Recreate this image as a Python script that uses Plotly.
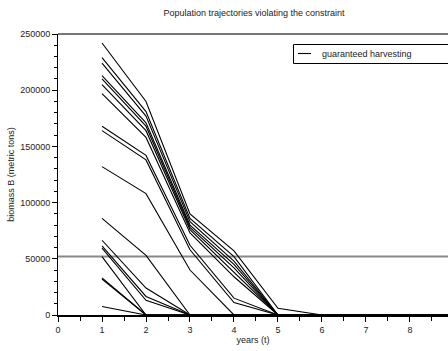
import plotly.graph_objects as go

years = [1, 2, 3, 4, 5, 6, 7, 8, 9]

# biomass trajectories (metric tons), one list per trajectory
traj_A = [242000, 190000, 90000, 57000, 6000, 0, 0, 0, 0]
traj_B = [229000, 181000, 86000, 52000, 0, 0, 0, 0, 0]
traj_C = [224000, 177000, 83000, 48000, 0, 0, 0, 0, 0]
traj_D = [213000, 171000, 80000, 45000, 0, 0, 0, 0, 0]
traj_E = [210000, 168000, 78000, 42000, 0, 0, 0, 0, 0]
traj_F = [205000, 164000, 76000, 38000, 0, 0, 0, 0, 0]
traj_G = [197000, 158000, 73000, 34000, 0, 0, 0, 0, 0]
traj_H = [168000, 142000, 62000, 15000, 0, 0, 0, 0, 0]
traj_I = [164000, 138000, 58000, 11000, 0, 0, 0, 0, 0]
traj_J = [132000, 108000, 40000, 0, 0, 0, 0, 0, 0]
traj_K = [86000, 53000, 0, 0, 0, 0, 0, 0, 0]
traj_L = [66500, 24000, 0, 0, 0, 0, 0, 0, 0]
traj_M = [61500, 16500, 0, 0, 0, 0, 0, 0, 0]
traj_N = [59500, 13000, 0, 0, 0, 0, 0, 0, 0]
traj_O = [52000, 0, 0, 0, 0, 0, 0, 0, 0]
traj_P = [33000, 0, 0, 0, 0, 0, 0, 0, 0]
traj_Q = [32000, 0, 0, 0, 0, 0, 0, 0, 0]
traj_R = [7500, 0, 0, 0, 0, 0, 0, 0, 0]

trajectories = [traj_A, traj_B, traj_C, traj_D, traj_E, traj_F, traj_G, traj_H, traj_I,
                traj_J, traj_K, traj_L, traj_M, traj_N, traj_O, traj_P, traj_Q, traj_R]

constraint_x = [0, 9]
constraint_B = [52000, 52000]

legend_label = "guaranteed harvesting"

fig = go.Figure()

fig.add_trace(go.Scatter(x=constraint_x, y=constraint_B, mode="lines",
                         line=dict(color="#888888", width=2), showlegend=False,
                         hoverinfo="skip"))

for i, tr in enumerate(trajectories):
    fig.add_trace(go.Scatter(x=years, y=tr, mode="lines",
                             line=dict(color="black", width=1.1),
                             name=legend_label, showlegend=False))

FONT = "Liberation Sans, Arial, sans-serif"
font = dict(family=FONT, size=9, color="#222222")

# plot area in pixels: left 58, width 390, top 34, height 281
def px_x(p):
    return (p - 58) / 390.0

def px_y(p):
    return (315 - p) / 281.0

fig.update_layout(
    width=448, height=351,
    margin=dict(l=58, r=0, t=34, b=36, autoexpand=False),
    paper_bgcolor="white", plot_bgcolor="white",
    font=font,
    showlegend=False,
    title=dict(text="Population trajectories violating the constraint",
               x=(58 + 196) / 448, xanchor="center", y=1 - 13 / 351, yanchor="middle",
               font=dict(size=9, family=FONT, color="#222222")),
    xaxis=dict(range=[0, 8.864], tickvals=[0, 1, 2, 3, 4, 5, 6, 7, 8],
               automargin=False,
               showgrid=False, zeroline=False,
               showline=True, linecolor="black", linewidth=2,
               ticks="outside", ticklen=5, tickcolor="black", tickwidth=1,
               minor=dict(ticks="outside", ticklen=4, dtick=0.5, tickcolor="black", tickwidth=1),
               title=dict(text="years (t)", standoff=2, font=dict(size=9)),
               tickfont=dict(size=9)),
    yaxis=dict(range=[0, 250000], tickvals=[0, 50000, 100000, 150000, 200000, 250000],
               tickformat="d", automargin=False,
               showgrid=False, zeroline=False,
               showline=True, linecolor="black", linewidth=1,
               ticks="outside", ticklen=5, tickcolor="black", tickwidth=1,
               minor=dict(ticks="outside", ticklen=3, dtick=10000, tickcolor="black", tickwidth=1),
               title=dict(text="biomass B (metric tons)", standoff=4, font=dict(size=9)),
               tickfont=dict(size=9)),
    shapes=[
        dict(type="line", xref="paper", yref="paper", x0=0, x1=1, y0=1, y1=1,
             line=dict(color="#777777", width=2)),
        # legend box
        dict(type="rect", xref="paper", yref="paper",
             x0=px_x(293.5), x1=px_x(460), y0=px_y(63.5), y1=px_y(44.5),
             line=dict(color="black", width=1), fillcolor="white", layer="above"),
        dict(type="line", xref="paper", yref="paper",
             x0=px_x(298), x1=px_x(311), y0=px_y(53.5), y1=px_y(53.5),
             line=dict(color="black", width=1.1), layer="above"),
    ],
    annotations=[
        dict(text=legend_label, xref="paper", yref="paper", x=px_x(320), y=px_y(53.5),
             xanchor="left", yanchor="middle", showarrow=False,
             font=dict(size=9, family=FONT, color="#222222")),
    ],
)

fig.write_html("out.html", config={"displayModeBar": False},
               post_script="document.body.style.margin='0px';document.body.style.overflow='hidden';")
